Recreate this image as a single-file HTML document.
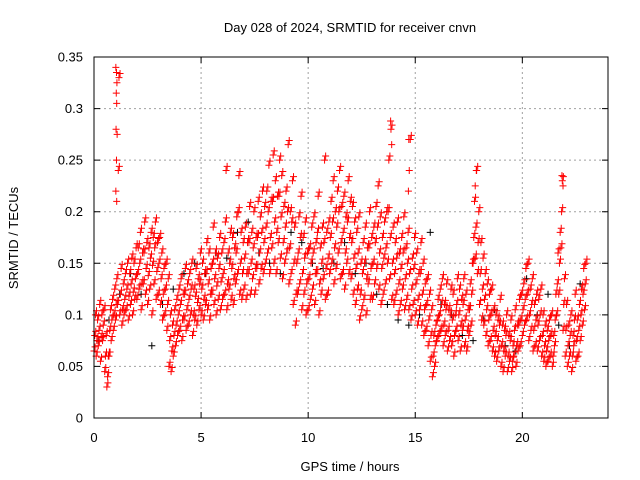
<!DOCTYPE html>
<html><head><meta charset="utf-8"><style>
body{margin:0;background:#fff}
svg{display:block;font-family:"Liberation Sans",sans-serif;font-size:13px}
</style></head><body>
<svg id="chart" width="640" height="480">
<text x="350" y="32" text-anchor="middle">Day 028 of 2024, SRMTID for receiver cnvn</text>
<text x="350" y="471" text-anchor="middle">GPS time / hours</text>
<text transform="translate(18,238) rotate(-90)" text-anchor="middle">SRMTID / TECUs</text>
<g id="grid"></g>
<g id="ticks"></g>
<g id="black"></g>
<g id="red"></g>
<rect x="94" y="57" width="514" height="361" fill="none" stroke="#000" stroke-width="1"/>
</svg>
<script>
const xTicks=[0,5,10,15,20];
const yTicks=[0,0.05,0.1,0.15,0.2,0.25,0.3,0.35];
const yTickLabels=["0","0.05","0.1","0.15","0.2","0.25","0.3","0.35"];
const stepHours=0.1;
// red series, milli-TECU, one value per 0.1 h in each band
const redMid=[80,75,85,78,90,60,40,85,95,100,110,240,120,105,115,125,118,130,122,135,140,150,130,160,145,138,155,148,165,142,150,135,120,125,110,75,65,80,90,100,110,95,120,105,115,125,100,118,112,130,125,115,140,130,120,150,135,128,145,132,140,190,130,150,145,135,160,200,150,140,155,140,170,150,165,145,175,160,180,170,185,200,175,210,190,180,215,195,170,185,200,165,190,150,120,160,175,140,155,130,135,150,160,140,180,130,150,170,145,155,175,190,165,185,200,170,180,160,190,175,170,155,145,160,120,140,150,135,165,145,150,170,185,160,145,155,165,200,175,150,140,155,130,145,160,135,150,140,125,145,130,115,140,120,105,110,95,80,60,70,95,100,110,90,105,85,100,95,80,110,100,90,110,95,85,105,120,175,185,170,140,125,115,105,95,100,85,80,75,90,70,65,80,60,75,55,85,70,90,95,105,115,120,100,110,85,95,90,100,80,70,65,75,80,60,95,130,150,200,110,85,70,80,60,95,75,85,100,120,130];
const redLow=[65,60,70,55,75,45,30,60,75,85,95,110,100,90,100,105,95,110,100,115,115,125,105,130,120,110,125,100,130,115,120,110,95,100,85,50,45,60,70,80,85,75,95,85,90,100,80,95,90,105,100,95,110,105,95,120,110,100,115,105,115,120,105,125,115,110,130,140,120,115,125,115,140,120,135,120,145,130,145,140,150,160,140,165,150,140,170,155,135,150,160,130,140,110,90,120,130,105,120,100,105,115,125,110,140,100,120,135,115,120,140,150,130,145,160,135,140,125,150,140,135,120,110,125,95,105,115,100,130,115,115,130,145,125,110,120,130,150,135,115,110,120,100,110,125,105,115,105,95,110,100,90,105,90,80,85,70,55,40,50,75,80,85,70,80,65,75,70,60,85,75,65,85,70,65,80,90,150,155,140,110,95,90,80,70,75,65,60,55,65,50,45,60,45,55,45,60,50,65,70,80,90,95,75,85,65,70,65,75,60,55,50,55,60,50,70,100,120,165,85,60,50,60,45,70,55,60,75,90,105];
const redHigh=[100,95,110,100,105,80,60,105,115,125,135,330,145,130,140,150,140,155,150,165,165,180,160,190,170,165,180,175,190,170,175,160,145,150,135,100,90,105,115,125,135,120,145,130,140,150,125,145,135,160,150,140,170,160,145,185,160,155,175,160,170,240,160,180,175,165,195,235,180,170,185,170,205,180,200,175,210,195,220,205,220,245,210,255,230,215,250,235,205,220,265,200,230,185,150,195,215,175,190,160,165,185,195,170,215,165,185,250,180,190,210,230,200,220,240,205,215,195,230,210,205,190,180,195,150,170,185,165,200,175,185,205,225,195,175,190,200,250,280,185,170,190,160,175,195,165,180,270,155,175,160,140,170,150,130,135,120,105,80,90,115,125,135,110,130,105,125,120,100,135,125,115,135,120,105,130,150,210,240,200,170,155,140,130,120,125,105,100,95,115,90,85,100,80,95,70,105,90,115,120,130,145,150,125,135,110,120,115,125,100,90,85,95,100,80,120,160,180,230,135,110,90,100,80,120,95,110,125,145,150];
// extra isolated red points (hours, TECU)
const spikeT=[1.02,1.05,1.07,1.04,1.06,1.03,1.08,1.05,1.02,1.06,14.7,14.72,14.68,17.85,17.8,21.85,21.9,13.85,13.9];
const spikeV=[0.34,0.335,0.325,0.315,0.305,0.28,0.275,0.25,0.22,0.21,0.27,0.24,0.22,0.24,0.225,0.235,0.225,0.288,0.265];
// black series, one value per 0.5 h, milli-TECU
const blackMilli=[75,95,120,140,120,70,110,125,140,150,140,160,155,180,190,160,150,140,180,170,150,145,150,170,140,150,120,110,95,90,100,180,110,100,80,75,95,105,70,65,135,100,120,90,70,130];
const X=h=>94+h*(514/24), Y=v=>418-v*(361/0.35);
const svgNS="http://www.w3.org/2000/svg";
function mk(tag,parent){const e=document.createElementNS(svgNS,tag);parent.appendChild(e);return e;}
const grid=document.getElementById('grid'),ticks=document.getElementById('ticks');
xTicks.forEach(t=>{const x=X(t);
 if(t>0){const l=mk('line',grid);l.setAttribute('x1',x);l.setAttribute('x2',x);l.setAttribute('y1',57);l.setAttribute('y2',418);l.setAttribute('stroke','#a0a0a0');l.setAttribute('stroke-dasharray','2,3');
 
 }
 const tk=mk('path',ticks);tk.setAttribute('d',`M${x},418v-6M${x},57v6`);tk.setAttribute('stroke','#000');
 
 
 const tx=mk('text',ticks);tx.setAttribute('x',x);tx.setAttribute('y',442);tx.setAttribute('text-anchor','middle');tx.textContent=t;
 
 });
yTicks.forEach((v,i)=>{const y=Y(v);
 if(i>0&&i<yTicks.length-1){const l=mk('line',grid);l.setAttribute('x1',94);l.setAttribute('x2',608);l.setAttribute('y1',y);l.setAttribute('y2',y);l.setAttribute('stroke','#a0a0a0');l.setAttribute('stroke-dasharray','2,3');
 
 }
 const tk=mk('path',ticks);tk.setAttribute('d',`M94,${y}h6M608,${y}h-6`);tk.setAttribute('stroke','#000');
 
 
 const tx=mk('text',ticks);tx.setAttribute('x',83);tx.setAttribute('y',y+4.5);tx.setAttribute('text-anchor','end');tx.textContent=yTickLabels[i];
 
 });
function plus(g,h,v,col,name){const x=X(h),y=Y(v);const p=mk('path',g);
 p.setAttribute('d',`M${x-3.5},${y}h7M${x},${y-3.5}v7`);p.setAttribute('stroke',col);p.setAttribute('stroke-width','1');
 
 }
const bg=document.getElementById('black'),rg=document.getElementById('red');
blackMilli.forEach((v,i)=>plus(bg,i*0.5+0.2,v/1000,'#000','black-point'));
[redLow,redMid,redHigh].forEach((arr,k)=>arr.forEach((v,i)=>{
 plus(rg,i*stepHours+k*0.033,v/1000,'#f00','red-point');
 plus(rg,i*stepHours+k*0.033+0.05,v/1000+0.004,'#f00','red-point');
}));
spikeT.forEach((t,i)=>plus(rg,t,spikeV[i],'#f00','red-point'));
</script>
</body></html>
